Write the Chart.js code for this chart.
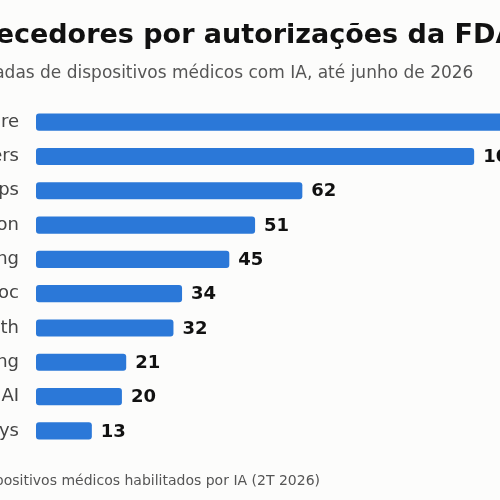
<!DOCTYPE html>
<html><head><meta charset="utf-8">
<script src="https://cdn.jsdelivr.net/npm/chart.js@4"></script>
<style>html,body{margin:0;padding:0;background:#fcfcfb;overflow:hidden;width:500px;height:500px}
#w{position:absolute;left:-255px;top:0;width:800px;height:500px}</style>
</head><body><div id="w"><canvas id="c" width="800" height="500"></canvas></div>
<script>
const categories=["GE HealthCare","Siemens Healthineers","Philips","Canon","United Imaging","Aidoc","DeepHealth","Samsung","RapidAI","Arterys"];
const values=[112,102,62,51,45,34,32,21,20,13];
const F='"DejaVu Sans", sans-serif';
const deco={id:'deco',afterDraw(ch){const c=ch.ctx;c.save();
c.fillStyle='#111';c.font='bold 27px '+F;c.textAlign='center';c.textBaseline='middle';
c.fillText('Principais fornecedores por autorizações da FDA',400,36);
c.fillStyle='#555';c.font='17px '+F;
c.fillText('Autorizações acumuladas de dispositivos médicos com IA, até junho de 2026',400,74);
c.font='14px '+F;c.textAlign='right';
c.fillText('Fonte: Lista da FDA de dispositivos médicos habilitados por IA (2T 2026)',575,481);
const m=ch.getDatasetMeta(0);c.fillStyle='#111';c.font='bold 18px '+F;c.textAlign='left';
m.data.forEach((b,i)=>c.fillText(values[i],b.x+9,b.y+1));
c.restore();}};
new Chart(document.getElementById('c'),{type:'bar',
data:{labels:categories,datasets:[{data:values,backgroundColor:'#2b78d8',borderRadius:3,borderSkipped:false,barPercentage:0.5,categoryPercentage:1}]},
options:{indexAxis:'y',responsive:false,animation:false,
layout:{padding:{top:105,bottom:52,left:0,right:15}},
plugins:{legend:{display:false},tooltip:{enabled:false}},
scales:{x:{display:false,min:0,max:115},
y:{grid:{display:false},border:{display:false},ticks:{color:'#444',font:{size:18,family:F},padding:9},
afterFit(s){s.width=291;}}}},
plugins:[deco]});
</script></body></html>
